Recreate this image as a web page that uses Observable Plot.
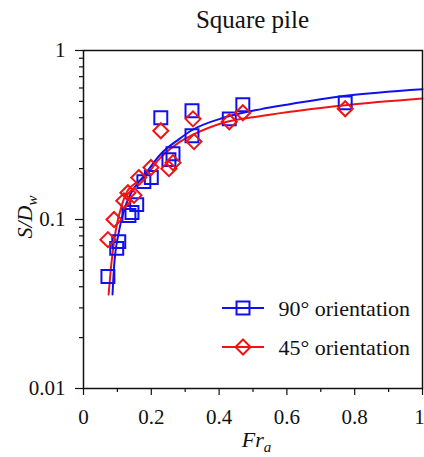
<!DOCTYPE html>
<html>
<head>
<meta charset="utf-8">
<script src="https://cdn.jsdelivr.net/npm/d3@7"></script>
<script src="https://cdn.jsdelivr.net/npm/@observablehq/plot@0.6"></script>
<style>
  body { margin: 0; background: #fff; }
  #chart svg { display: block; overflow: visible; }
</style>
</head>
<body>
<div id="chart"></div>
<script>
// Measured relative scour depth S/Dw against Fr_a, 90° orientation
const fr90 = [0.072, 0.098, 0.104, 0.134, 0.143, 0.157, 0.178, 0.200, 0.228, 0.252, 0.264, 0.320, 0.320, 0.430, 0.470, 0.772];
const s90  = [0.046, 0.0675, 0.074, 0.1056, 0.110, 0.1225, 0.1676, 0.177, 0.400, 0.226, 0.245, 0.440, 0.313, 0.394, 0.477, 0.490];

// Measured relative scour depth, 45° orientation
const fr45 = [0.072, 0.090, 0.119, 0.131, 0.149, 0.163, 0.199, 0.228, 0.252, 0.264, 0.323, 0.326, 0.430, 0.470, 0.772];
const s45  = [0.076, 0.100, 0.129, 0.144, 0.139, 0.177, 0.203, 0.335, 0.200, 0.217, 0.394, 0.289, 0.379, 0.428, 0.452];

// Fitted trend curves
const fitFr90 = [0.0856, 0.090, 0.105, 0.125, 0.140, 0.179, 0.228, 0.282, 0.317, 0.415, 0.524, 0.600, 0.773, 1.0];
const fitS90  = [0.036, 0.052, 0.086, 0.122, 0.143, 0.182, 0.244, 0.299, 0.335, 0.401, 0.450, 0.478, 0.539, 0.590];
const fitFr45 = [0.074, 0.081, 0.095, 0.115, 0.130, 0.179, 0.228, 0.282, 0.317, 0.415, 0.524, 0.773, 1.0];
const fitS45  = [0.036, 0.052, 0.086, 0.125, 0.148, 0.177, 0.233, 0.286, 0.313, 0.375, 0.410, 0.475, 0.520];

const seriesNames = ["90° orientation", "45° orientation"];
const colors = ["#1010ee", "#ee1414"];
const titleText = "Square pile";

const xTicks = [0, 0.2, 0.4, 0.6, 0.8, 1];
const xMinor = [0.1, 0.3, 0.5, 0.7, 0.9];
const yTicks = [0.01, 0.1, 1];
const yMinor = [0.02, 0.03, 0.04, 0.05, 0.06, 0.07, 0.08, 0.09, 0.2, 0.3, 0.4, 0.5, 0.6, 0.7, 0.8, 0.9];

const zip = (xs, ys) => xs.map((v, i) => ({fr: v, s: ys[i]}));
const pts90 = zip(fr90, s90), pts45 = zip(fr45, s45);
const fit90 = zip(fitFr90, fitS90), fit45 = zip(fitFr45, fitS45);

// open square and diamond markers, sized from the dot radius
const squareSym = {draw(c, size) { const h = Math.sqrt(size) / 2; c.moveTo(-h, -h); c.lineTo(h, -h); c.lineTo(h, h); c.lineTo(-h, h); c.closePath(); }};
const diamondSym = {draw(c, size) { const d = Math.sqrt(size) / Math.SQRT2; c.moveTo(0, -d); c.lineTo(d, 0); c.lineTo(0, d); c.lineTo(-d, 0); c.closePath(); }};
const rSquare = 7.3, rDiamond = 6.0;

const serif = '"Liberation Serif", "Times New Roman", Times, serif';

const plot = Plot.plot({
  width: 424,
  height: 457,
  marginLeft: 83,
  marginRight: 2,
  marginTop: 50,
  marginBottom: 69,
  style: {fontSize: "21px", background: "white", color: "#111"},
  x: {domain: [0, 1]},
  y: {type: "log", domain: [0.01, 1]},
  marks: [
    Plot.axisX(xMinor, {tickSize: 4, tickFormat: () => "", label: null, strokeWidth: 1.2}),
    Plot.axisX(xTicks, {tickSize: 7, tickPadding: 14, tickFormat: d => String(d), label: null, strokeWidth: 1.2}),
    Plot.axisY(yMinor, {tickSize: 4, tickFormat: () => "", label: null, strokeWidth: 1.2}),
    Plot.axisY(yTicks, {tickSize: 8, tickPadding: 10, tickFormat: d => String(d), label: null, strokeWidth: 1.2}),
    Plot.line(fit45, {x: "fr", y: "s", stroke: colors[1], strokeWidth: 2, curve: "monotone-x"}),
    Plot.line(fit90, {x: "fr", y: "s", stroke: colors[0], strokeWidth: 2, curve: "monotone-x"}),
    Plot.dot(pts90, {x: "fr", y: "s", symbol: squareSym, r: rSquare, stroke: colors[0], strokeWidth: 2, fill: "none"}),
    Plot.dot(pts45, {x: "fr", y: "s", symbol: diamondSym, r: rDiamond, stroke: colors[1], strokeWidth: 2, fill: "none"}),
    Plot.frame({stroke: "#111", strokeWidth: 1.5})
  ]
});
document.getElementById("chart").appendChild(plot);

// title, axis titles with subscripts, and the legend inside the frame
const sx = plot.scale("x"), sy = plot.scale("y");
const fLeft = sx.apply(0), fRight = sx.apply(1), fTop = sy.apply(1), fBottom = sy.apply(0.01);
const svg = d3.select(plot);

svg.append("text")
  .attr("x", (fLeft + fRight) / 2).attr("y", fTop - 22)
  .attr("text-anchor", "middle").attr("font-size", 25).attr("fill", "#111")
  .text(titleText);

const xl = svg.append("text")
  .attr("x", (fLeft + fRight) / 2 + 4).attr("y", fBottom + 59)
  .attr("text-anchor", "middle").attr("font-size", 22)
  .attr("font-style", "italic").attr("fill", "#111");
xl.append("tspan").text("Fr");
xl.append("tspan").attr("font-size", 15).attr("dy", 5).text("a");

const yl = svg.append("text")
  .attr("transform", `translate(${fLeft - 51},${(fTop + fBottom) / 2 - 2}) rotate(-90)`)
  .attr("text-anchor", "middle").attr("font-size", 22)
  .attr("font-style", "italic").attr("fill", "#111");
yl.append("tspan").text("S/D");
yl.append("tspan").attr("font-size", 15).attr("dy", 5).text("w");

const legend = svg.append("g");
const syms = [squareSym, diamondSym], radii = [rSquare, rDiamond];
seriesNames.forEach((name, i) => {
  const cy = fTop + 258 + i * 39;
  const p = d3.path();
  syms[i].draw(p, Math.PI * radii[i] * radii[i]);
  legend.append("path").attr("d", p.toString()).attr("transform", `translate(${fLeft + 160},${cy})`)
    .attr("fill", "white").attr("stroke", colors[i]).attr("stroke-width", 2);
  legend.append("path").attr("d", `M${fLeft + 139},${cy}H${fLeft + 181}`)
    .attr("fill", "none").attr("stroke", colors[i]).attr("stroke-width", 2);
  legend.append("text").attr("x", fLeft + 195.5).attr("y", cy + 8)
    .attr("text-anchor", "start").attr("font-size", 22).attr("fill", "#111").text(name);
});

// keep the last x tick label inside the page edge
svg.selectAll("[aria-label='x-axis tick label'] text").filter(function () { return this.textContent === "1"; })
  .attr("dx", -3);

// serif face on every label
svg.selectAll("text").style("font-family", serif, "important");
</script>
</body>
</html>
